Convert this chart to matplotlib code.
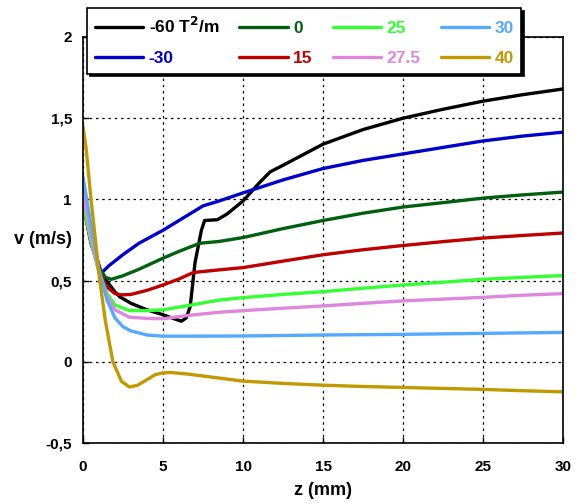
import matplotlib
matplotlib.use("Agg")
import matplotlib.pyplot as plt

plt.rcParams['font.family'] = ['Liberation Sans', 'DejaVu Sans']
plt.rcParams['font.weight'] = 'bold'
plt.rcParams['mathtext.default'] = 'bf'

# ---- data ----
z_m60 = [0, 0.5, 1, 1.35, 2, 2.3, 3, 4, 5, 5.7, 6.15, 6.45, 6.7, 7.0, 7.4, 7.6, 8.4, 9, 10, 11, 11.7, 12.5, 15, 17.5, 20, 22.5, 25, 27.5, 30]
v_m60 = [0.97, 0.73, 0.58, 0.515, 0.43, 0.40, 0.36, 0.32, 0.29, 0.265, 0.25, 0.27, 0.34, 0.61, 0.81, 0.87, 0.875, 0.91, 0.99, 1.10, 1.17, 1.21, 1.34, 1.43, 1.50, 1.555, 1.605, 1.645, 1.68]

z_m30 = [0, 0.5, 1.15, 1.6, 2.5, 3.5, 5, 6, 7, 7.5, 8.5, 10, 12.5, 15, 17.5, 20, 22.5, 25, 27.5, 30]
v_m30 = [1.0, 0.76, 0.546, 0.59, 0.66, 0.73, 0.81, 0.87, 0.93, 0.96, 0.99, 1.04, 1.12, 1.19, 1.24, 1.28, 1.32, 1.36, 1.39, 1.414]

z_0 = [0, 0.5, 1, 1.4, 1.77, 2.5, 3.5, 5, 6, 7.3, 8.5, 10, 12.5, 15, 17.5, 20, 22.5, 25, 27.5, 30]
v_0 = [0.99, 0.76, 0.58, 0.52, 0.508, 0.53, 0.57, 0.638, 0.68, 0.73, 0.741, 0.765, 0.82, 0.87, 0.915, 0.953, 0.98, 1.008, 1.028, 1.045]

z_15 = [0, 0.5, 1, 1.5, 2, 2.4, 3, 4, 5, 6, 6.9, 8.5, 10, 12.5, 15, 17.5, 20, 22.5, 25, 27.5, 30]
v_15 = [0.98, 0.75, 0.56, 0.46, 0.42, 0.412, 0.415, 0.44, 0.473, 0.51, 0.55, 0.566, 0.58, 0.62, 0.659, 0.69, 0.716, 0.74, 0.762, 0.778, 0.793]

z_25 = [0, 0.5, 1, 1.5, 2, 2.9, 4, 5, 6.5, 8.5, 10, 12.5, 15, 17.5, 20, 22.5, 25, 27.5, 30]
v_25 = [0.97, 0.74, 0.55, 0.42, 0.35, 0.315, 0.315, 0.32, 0.345, 0.38, 0.395, 0.415, 0.432, 0.453, 0.473, 0.49, 0.508, 0.52, 0.531]

z_275 = [0, 0.5, 1, 1.5, 2, 2.9, 4, 5, 6.5, 8.5, 10, 12.5, 15, 17.5, 20, 22.5, 25, 27.5, 30]
v_275 = [1.04, 0.77, 0.55, 0.40, 0.32, 0.275, 0.267, 0.265, 0.285, 0.305, 0.315, 0.33, 0.344, 0.36, 0.375, 0.386, 0.397, 0.41, 0.42]

z_30 = [0, 0.5, 1, 1.5, 2, 2.5, 3, 4, 5, 7, 10, 15, 20, 25, 30]
v_30 = [1.14, 0.84, 0.57, 0.38, 0.27, 0.216, 0.19, 0.165, 0.158, 0.158, 0.159, 0.165, 0.169, 0.175, 0.181]

z_40 = [0, 0.2, 0.5, 0.8, 1.05, 1.4, 1.87, 2.4, 2.9, 3.4, 4, 4.5, 5, 5.5, 6.5, 8.5, 10, 12.5, 15, 17.5, 20, 22.5, 25, 27.5, 30]
v_40 = [1.45, 1.31, 1.0, 0.73, 0.5, 0.25, 0.0, -0.12, -0.155, -0.145, -0.11, -0.08, -0.068, -0.066, -0.075, -0.10, -0.119, -0.133, -0.144, -0.152, -0.158, -0.164, -0.17, -0.178, -0.185]

labels = ['-60 T$^{2}$/m', '-30', '0', '15', '25', '27.5', '30', '40']
colors = ['#000000', '#0000CC', '#006010', '#C00000', '#33FF33', '#DD88DD', '#55AAFF', '#C09A00']
series = [(z_m60, v_m60), (z_m30, v_m30), (z_0, v_0), (z_15, v_15),
          (z_25, v_25), (z_275, v_275), (z_30, v_30), (z_40, v_40)]

xticks = [0, 5, 10, 15, 20, 25, 30]
xtick_labels = ['0', '5', '10', '15', '20', '25', '30']
yticks = [-0.5, 0, 0.5, 1, 1.5, 2]
ytick_labels = ['-0,5', '0', '0,5', '1', '1,5', '2']

fig = plt.figure(figsize=(5.8, 5.03), dpi=100)
ax = fig.add_axes([83/580, 1-443/503, (563-83)/580, (443-37)/503])

for (z, v), c, lab in zip(series, colors, labels):
    ax.plot(z, v, color=c, lw=2.4, label=lab, solid_joinstyle='round', solid_capstyle='round')

ax.set_xlim(0, 30)
ax.set_ylim(-0.5, 2)
ax.set_xticks(xticks)
ax.set_xticklabels(xtick_labels)
ax.set_yticks(yticks)
ax.set_yticklabels(ytick_labels)
ax.tick_params(direction='in', length=4, width=1, labelsize=11)
ax.tick_params(axis='y', pad=8)
ax.tick_params(axis='x', pad=12)
ax.grid(True, color='black', linestyle=(0, (2, 3)), linewidth=0.9)
for s in ax.spines.values():
    s.set_linewidth(1.2)

ax.set_xlabel('z (mm)', fontsize=13, fontweight='bold', va='center')
ax.xaxis.set_label_coords(0.5, -0.116)
ax.set_ylabel('v (m/s)', fontsize=13, fontweight='bold', rotation=0, ha='center', va='center')
ax.yaxis.set_label_coords(-0.084, 0.5)

leg = ax.legend(loc='upper left', bbox_to_anchor=(87/580, 1-8/503), bbox_transform=fig.transFigure,
                ncol=4, fontsize=12.5, handlelength=2.8, handletextpad=0.3, columnspacing=1.15,
                labelspacing=0.85, borderpad=0.45, borderaxespad=0, fancybox=False, framealpha=1,
                edgecolor='black', shadow={'color': 'black', 'alpha': 1})
leg.get_frame().set_linewidth(1.2)
for t, c in zip(leg.get_texts(), colors):
    t.set_color(c)
    t.set_fontweight('bold')
leg.set_zorder(10)

fig.savefig('out.png', dpi=100)
